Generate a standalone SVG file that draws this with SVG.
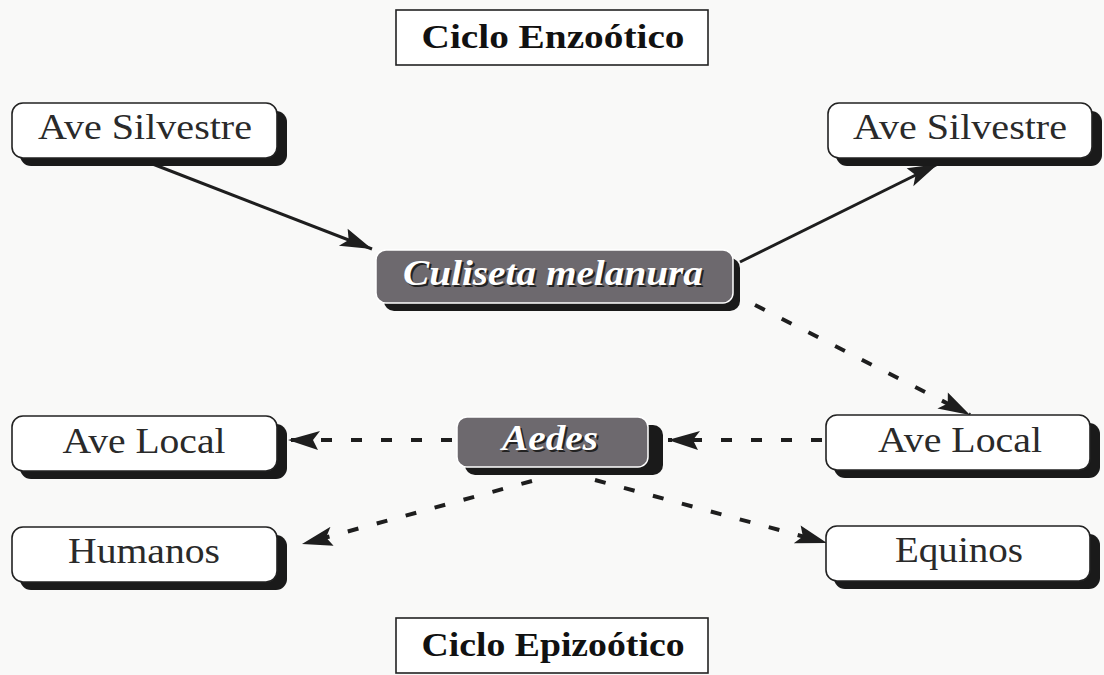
<svg xmlns="http://www.w3.org/2000/svg" width="1104" height="675" viewBox="0 0 1104 675">
<defs>
<style>
.bg{fill:#f9f9f8}
.shadow{fill:#1a1a1a}
.box{fill:#ffffff;stroke:#222;stroke-width:1.6}
.dbox{fill:#6d696e;stroke:#ffffff;stroke-width:1.5}
.title{fill:#fff;stroke:#222;stroke-width:1.6}
.t{font-family:'Liberation Serif','Times New Roman',Tinos,serif;font-size:35px;fill:#2a2a2a;text-anchor:middle}
.tb{font-family:'Liberation Serif','Times New Roman',Tinos,serif;font-size:34px;font-weight:bold;fill:#111;text-anchor:middle}
.ti{font-family:'Liberation Serif','Times New Roman',Tinos,serif;font-size:35px;font-weight:bold;font-style:italic;fill:#fff;text-anchor:middle}
.tis{font-family:'Liberation Serif','Times New Roman',Tinos,serif;font-size:35px;font-weight:bold;font-style:italic;fill:#222;text-anchor:middle}
.solid{stroke:#1e1e1e;stroke-width:3;fill:none;marker-end:url(#ah)}
.dash{stroke:#1e1e1e;stroke-width:4;fill:none;stroke-dasharray:11 19;marker-end:url(#ah)}
</style>
<marker id="ah" markerUnits="userSpaceOnUse" markerWidth="34" markerHeight="26" viewBox="0 0 34 26" refX="32" refY="13" orient="auto">
<path d="M2,3 L32,13 L0,22 L7,13 Z" fill="#1e1e1e"/>
</marker>
</defs>
<rect class="bg" x="0" y="0" width="1104" height="675"/>

<g id="connectors">
<line class="solid" x1="150" y1="163" x2="372" y2="249"/>
<line class="solid" x1="740" y1="262" x2="938" y2="164"/>
<line class="dash" x1="755" y1="305" x2="970" y2="415"/>
<line class="dash" x1="822" y1="440" x2="668" y2="440"/>
<line class="dash" x1="452" y1="440" x2="288" y2="440"/>
<line class="dash" x1="532" y1="481" x2="302" y2="544"/>
<line class="dash" x1="595" y1="480" x2="827" y2="543"/>
</g>

<g id="title-enzootico">
<rect class="title" x="396" y="10" width="312" height="55"/>
<text class="tb" x="553" y="48" textLength="263" lengthAdjust="spacingAndGlyphs">Ciclo Enzoótico</text>
</g>

<g id="ave-silvestre-left">
<rect class="shadow" x="20" y="111" width="267" height="55" rx="11"/>
<rect class="box" x="12" y="103" width="265" height="55" rx="11"/>
<text class="t" x="145" y="139" textLength="214" lengthAdjust="spacingAndGlyphs">Ave Silvestre</text>
</g>

<g id="ave-silvestre-right">
<rect class="shadow" x="836" y="111" width="266" height="55" rx="11"/>
<rect class="box" x="828" y="103" width="264" height="55" rx="11"/>
<text class="t" x="960" y="139" textLength="214" lengthAdjust="spacingAndGlyphs">Ave Silvestre</text>
</g>

<g id="culiseta">
<rect class="shadow" x="384" y="258" width="356" height="53" rx="10"/>
<rect class="dbox" x="376" y="250" width="357" height="53" rx="10"/>
<text class="tis" x="555" y="287" textLength="300" lengthAdjust="spacingAndGlyphs">Culiseta melanura</text>
<text class="ti" x="553" y="285" textLength="300" lengthAdjust="spacingAndGlyphs">Culiseta melanura</text>
</g>

<g id="aedes">
<rect class="shadow" x="465" y="425" width="198" height="50" rx="10"/>
<rect class="dbox" x="457" y="417" width="191" height="50" rx="10"/>
<text class="tis" x="552" y="452" textLength="96" lengthAdjust="spacingAndGlyphs">Aedes</text>
<text class="ti" x="550" y="450" textLength="96" lengthAdjust="spacingAndGlyphs">Aedes</text>
</g>

<g id="ave-local-left">
<rect class="shadow" x="20" y="424" width="267" height="55" rx="11"/>
<rect class="box" x="12" y="416" width="265" height="55" rx="11"/>
<text class="t" x="144" y="453" textLength="163" lengthAdjust="spacingAndGlyphs">Ave Local</text>
</g>

<g id="ave-local-right">
<rect class="shadow" x="834" y="423" width="266" height="55" rx="11"/>
<rect class="box" x="826" y="415" width="264" height="55" rx="11"/>
<text class="t" x="960" y="452" textLength="164" lengthAdjust="spacingAndGlyphs">Ave Local</text>
</g>

<g id="humanos">
<rect class="shadow" x="20" y="535" width="267" height="55" rx="11"/>
<rect class="box" x="12" y="527" width="265" height="55" rx="11"/>
<text class="t" x="144" y="563" textLength="152" lengthAdjust="spacingAndGlyphs">Humanos</text>
</g>

<g id="equinos">
<rect class="shadow" x="834" y="534" width="266" height="55" rx="11"/>
<rect class="box" x="826" y="526" width="264" height="55" rx="11"/>
<text class="t" x="959" y="562" textLength="128" lengthAdjust="spacingAndGlyphs">Equinos</text>
</g>

<g id="title-epizootico">
<rect class="title" x="396" y="618" width="312" height="55"/>
<text class="tb" x="553" y="656" textLength="263" lengthAdjust="spacingAndGlyphs">Ciclo Epizoótico</text>
</g>
</svg>
